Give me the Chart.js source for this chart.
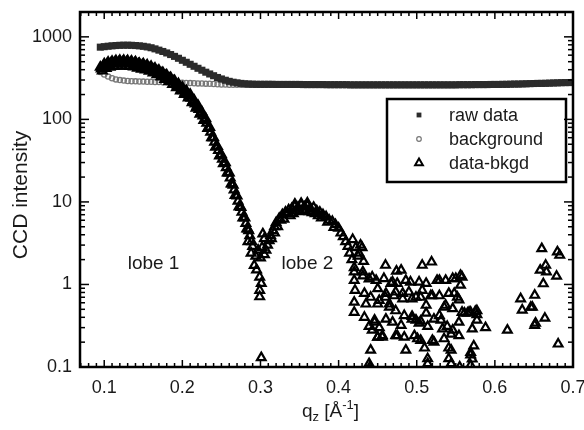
<!DOCTYPE html>
<html>
<head>
<meta charset="utf-8">
<script src="https://cdn.jsdelivr.net/npm/chart.js@4.4.1/dist/chart.umd.min.js"></script>
<style>
  html, body { margin: 0; padding: 0; background: #fff; }
</style>
</head>
<body>
<canvas id="chart" width="584" height="430"></canvas>
<script>
const FONT = '"Liberation Sans", Arial, Helvetica, sans-serif';

// q sampling shared by the raw and background curves
const qGrid = [
  0.095, 0.100, 0.105, 0.110, 0.115, 0.120, 0.125, 0.130, 0.135, 0.140,
  0.145, 0.150, 0.155, 0.160, 0.165, 0.170, 0.175, 0.180, 0.185, 0.190,
  0.195, 0.200, 0.205, 0.210, 0.215, 0.220, 0.225, 0.230, 0.235, 0.240,
  0.245, 0.250, 0.255, 0.260, 0.265, 0.270, 0.275, 0.280, 0.285, 0.290,
  0.295, 0.300, 0.305, 0.310, 0.315, 0.320, 0.325, 0.330, 0.335, 0.340,
  0.345, 0.350, 0.355, 0.360, 0.365, 0.370, 0.375, 0.380, 0.385, 0.390,
  0.395, 0.400, 0.405, 0.410, 0.415, 0.420, 0.425, 0.430, 0.435, 0.440,
  0.445, 0.450, 0.455, 0.460, 0.465, 0.470, 0.475, 0.480, 0.485, 0.490,
  0.495, 0.500, 0.505, 0.510, 0.515, 0.520, 0.525, 0.530, 0.535, 0.540,
  0.545, 0.550, 0.555, 0.560, 0.565, 0.570, 0.575, 0.580, 0.585, 0.590,
  0.595, 0.600, 0.605, 0.610, 0.615, 0.620, 0.625, 0.630, 0.635, 0.640,
  0.645, 0.650, 0.655, 0.660, 0.665, 0.670, 0.675, 0.680, 0.685, 0.690,
  0.695, 0.700
];

const rawData = [
  750, 760, 770, 778, 785, 790, 792, 792, 790, 785,
  778, 768, 755, 738, 715, 690, 665, 638, 610, 580,
  550, 520, 492, 465, 440, 416, 394, 373, 355, 338,
  322, 309, 298, 289, 282, 277, 273, 270, 268, 267,
  266, 266, 266, 266, 266, 265, 265, 265, 265, 265,
  265, 265, 264, 264, 264, 264, 264, 264, 263, 263,
  263, 263, 263, 263, 262, 262, 262, 262, 262, 262,
  262, 262, 262, 262, 262, 262, 262, 262, 262, 262,
  262, 262, 262, 262, 262, 262, 262, 262, 262, 262,
  262, 262, 263, 263, 263, 263, 264, 264, 264, 264,
  265, 265, 265, 266, 266, 267, 268, 268, 269, 270,
  271, 272, 273, 273, 274, 275, 276, 277, 278, 279,
  279, 280
];

const background = [
  376, 350, 330, 315, 305, 299, 295, 292, 290, 289,
  288, 287, 286, 285, 284, 283, 282, 281, 280, 279,
  278, 277, 276, 275, 274, 273, 272, 271, 270, 268,
  266, 265, 264, 263, 263, 262, 262, 262, 262, 262,
  262, 262, 262, 262, 262, 262, 262, 262, 262, 262,
  262, 262, 262, 262, 262, 262, 262, 262, 262, 262,
  262, 262, 262, 262, 261, 261, 261, 261, 261, 261,
  261, 261, 261, 261, 261, 261, 261, 261, 261, 261,
  261, 261, 261, 261, 261, 261, 261, 261, 261, 261,
  261, 261, 262, 262, 262, 262, 263, 263, 263, 263,
  264, 264, 264, 265, 265, 266, 267, 267, 268, 269,
  270, 271, 272, 272, 273, 274, 275, 276, 277, 278,
  278, 279
];

// data-bkgd, first lobe: several passes through the thick band
const lobe1Q = [
  0.095, 0.100, 0.105, 0.110, 0.115, 0.120, 0.125, 0.130, 0.135, 0.140,
  0.145, 0.150, 0.155, 0.160, 0.165, 0.170, 0.175, 0.180, 0.185, 0.190,
  0.195, 0.200, 0.205, 0.210, 0.215, 0.220, 0.225, 0.230, 0.235, 0.240,
  0.245, 0.250, 0.255, 0.260, 0.265, 0.270, 0.275, 0.280, 0.285,
  0.0975, 0.1025, 0.1075, 0.1125, 0.1175, 0.1225, 0.1275, 0.1325, 0.1375, 0.1425,
  0.1475, 0.1525, 0.1575, 0.1625, 0.1675, 0.1725, 0.1775, 0.1825, 0.1875, 0.1925,
  0.1975, 0.2025, 0.2075, 0.2125, 0.2175, 0.2225, 0.2275, 0.2325, 0.2375, 0.2425,
  0.2475, 0.2525, 0.2575, 0.2625, 0.2675, 0.2725, 0.2775, 0.2825,
  0.09625, 0.10125, 0.10625, 0.11125, 0.11625, 0.12125, 0.12625, 0.13125, 0.13625, 0.14125,
  0.14625, 0.15125, 0.15625, 0.16125, 0.16625, 0.17125, 0.17625, 0.18125, 0.18625, 0.19125,
  0.19625, 0.20125, 0.20625, 0.21125, 0.21625, 0.22125, 0.22625, 0.23125, 0.23625, 0.24125,
  0.24625, 0.25125, 0.25625, 0.26125, 0.26625, 0.27125, 0.27625, 0.28125, 0.28625,
  0.09875, 0.10375, 0.10875, 0.11375, 0.11875, 0.12375, 0.12875, 0.13375, 0.13875, 0.14375,
  0.14875, 0.15375, 0.15875, 0.16375, 0.16875, 0.17375, 0.17875, 0.18375, 0.18875,
  0.19375, 0.19875, 0.20375, 0.20875, 0.21375, 0.21875, 0.22375, 0.22875, 0.23375, 0.23875,
  0.24375, 0.24875, 0.25375, 0.25875, 0.26375, 0.26875, 0.27375, 0.27875, 0.28375, 0.28875
];
const lobe1I = [
  430, 470, 492, 505, 514, 518, 518, 514, 507, 498,
  476, 471, 455, 437, 417, 394, 369, 345, 321, 295,
  270, 244, 223, 201, 171, 148, 123, 102, 80, 60,
  47, 37.5, 30, 22.5, 16, 11.8, 8.6, 6.4, 4.5,
  386, 414, 429, 438, 443, 445, 443, 439, 432, 419,
  407, 397, 383, 367, 349, 328, 306, 286, 265, 243,
  221, 201, 182, 160, 137, 116, 97, 78, 60, 46,
  36, 29, 22.5, 16.5, 12, 8.7, 6.4, 4.7,
  410, 445, 463, 474, 481, 484, 483, 479, 472, 462,
  450, 436, 421, 403, 385, 362, 339, 316, 294, 270,
  246, 223, 203, 181, 154, 132, 110, 90, 70, 53,
  42, 33, 26, 19.5, 14, 10.2, 7.5, 5.5, 3.9,
  443, 469, 483, 492, 497, 498, 495, 489, 481, 470,
  456, 442, 424, 406, 384, 362, 338, 314, 290,
  258, 234, 213, 193, 167, 144, 121, 100, 80, 60,
  47, 37, 29.5, 22.5, 16.5, 12, 8.8, 6.5, 4.7, 3.3
];

// data-bkgd, the minimum near 0.3 and the second lobe
const lobe2Q = [
  0.284, 0.288, 0.290, 0.292, 0.294, 0.295, 0.297, 0.299, 0.299, 0.299,
  0.300, 0.301, 0.301, 0.302, 0.303, 0.305, 0.305, 0.307, 0.309, 0.311,
  0.313, 0.316, 0.318, 0.320, 0.324, 0.328, 0.330, 0.332, 0.336, 0.338,
  0.340, 0.342, 0.344, 0.348, 0.350, 0.352, 0.356, 0.358, 0.360, 0.364,
  0.366, 0.368, 0.372, 0.374, 0.376, 0.380, 0.384, 0.388, 0.392, 0.396,
  0.400, 0.403, 0.406, 0.409, 0.412, 0.414, 0.417, 0.418, 0.420, 0.420,
  0.422, 0.425, 0.426, 0.428, 0.430, 0.432,
  0.314, 0.318, 0.322, 0.326, 0.334, 0.344, 0.346, 0.352, 0.354, 0.360,
  0.362, 0.370, 0.378, 0.386, 0.394
];
const lobe2I = [
  3.3, 2.4, 2.9, 1.7, 2.2, 1.5, 2.6, 1.23, 0.85, 0.71,
  2.1, 1.03, 0.13, 2.8, 4.1, 3.6, 2.3, 2.6, 3.0, 3.4,
  3.9, 4.5, 5.0, 5.6, 6.3, 7.0, 6.2, 7.5, 8.0, 6.8,
  8.3, 7.2, 8.8, 8.6, 7.6, 9.2, 8.7, 7.8, 9.0, 8.3,
  7.4, 8.6, 7.8, 6.8, 7.5, 7.0, 6.6, 6.0, 5.8, 5.3,
  4.8, 4.2, 3.8, 3.3, 2.9, 2.4, 2.0, 3.5, 1.6, 1.12,
  2.8, 2.2, 2.4, 3.0, 2.8, 1.9,
  3.6, 4.2, 5.0, 6.0, 7.2, 9.4, 7.8, 9.6, 8.0, 9.7,
  7.6, 7.2, 6.4, 5.7, 4.9
];

// data-bkgd, noisy tail above 0.42
const tailQ = [
  0.421, 0.420, 0.420, 0.431, 0.433, 0.435, 0.433, 0.439, 0.441, 0.439,
  0.443, 0.443, 0.446, 0.450, 0.450, 0.450, 0.456, 0.458, 0.460, 0.4605,
  0.4605, 0.465, 0.467, 0.469, 0.473, 0.474, 0.475, 0.475, 0.480, 0.480,
  0.482, 0.486, 0.490, 0.492, 0.494, 0.494, 0.499, 0.501, 0.503, 0.505,
  0.505, 0.505, 0.507, 0.510, 0.512, 0.514, 0.514, 0.518, 0.519, 0.522,
  0.522, 0.526, 0.529, 0.531, 0.535, 0.537, 0.537, 0.539, 0.541, 0.541,
  0.541, 0.546, 0.550, 0.552, 0.554, 0.554, 0.556, 0.556, 0.558, 0.558,
  0.565, 0.567, 0.569, 0.571, 0.571, 0.573, 0.575, 0.577, 0.577, 0.588,
  0.616, 0.633, 0.635, 0.646, 0.651, 0.651, 0.658, 0.660, 0.662, 0.664,
  0.665, 0.666, 0.679, 0.680, 0.681, 0.683, 0.440, 0.555,
  0.420, 0.431, 0.439, 0.448, 0.469, 0.486, 0.512, 0.529, 0.546,
  0.441, 0.452, 0.460, 0.471, 0.482, 0.499, 0.507, 0.520, 0.548,
  0.446, 0.452, 0.465, 0.473, 0.484, 0.494, 0.503, 0.512, 0.529, 0.535,
  0.546, 0.561, 0.569, 0.577, 0.450, 0.456, 0.473, 0.484, 0.497, 0.520,
  0.533, 0.544, 0.554, 0.544, 0.569, 0.514, 0.544, 0.569, 0.648, 0.652
];
const tailI = [
  0.85, 0.61, 0.46, 1.42, 0.78, 0.58, 0.40, 0.31, 0.16, 0.11,
  1.23, 0.28, 0.37, 0.89, 0.58, 0.23, 0.23, 1.18, 1.71, 0.78,
  0.38, 0.58, 1.03, 0.35, 0.81, 1.45, 1.03, 0.24, 1.49, 0.32,
  0.67, 0.16, 0.81, 1.07, 0.67, 0.41, 0.37, 0.22, 1.07, 0.70,
  0.36, 0.21, 1.71, 0.17, 0.56, 0.31, 0.126, 0.73, 1.87, 0.38,
  0.20, 1.12, 0.73, 0.37, 0.22, 1.12, 0.56, 0.31, 0.78, 0.17,
  0.126, 0.28, 1.18, 0.70, 0.35, 0.65, 1.29, 0.98, 1.23, 0.46,
  0.45, 0.46, 0.14, 0.29, 0.125, 0.18, 0.47, 0.43, 0.37, 0.30,
  0.28, 0.67, 0.49, 0.53, 0.74, 0.32, 1.49, 2.72, 1.02, 0.39,
  1.71, 1.42, 1.26, 2.48, 0.19, 2.26, 0.1, 0.1,
  1.42, 1.27, 1.17, 1.12, 1.07, 1.12, 1.03, 1.12, 1.18,
  0.70, 0.64, 0.70, 0.73, 0.78, 0.70, 0.85, 0.73, 0.78,
  0.35, 0.30, 0.53, 0.48, 0.42, 0.38, 0.34, 0.45, 0.42, 0.53,
  0.51, 0.45, 0.46, 0.48, 0.23, 0.24, 0.24, 0.23, 0.24, 0.21,
  0.29, 0.25, 0.24, 0.16, 0.15, 0.11, 0.11, 0.105, 0.53, 0.34
];

const xTicks = [0.1, 0.2, 0.3, 0.4, 0.5, 0.6, 0.7];
const yTicks = [0.1, 1, 10, 100, 1000];

const pairs = (qs, vs) => qs.map((q, i) => ({x: q, y: vs[i]}));
const diffPoints = [].concat(pairs(lobe1Q, lobe1I), pairs(lobe2Q, lobe2I), pairs(tailQ, tailI));

function line(ctx, x1, y1, x2, y2) {
  ctx.beginPath();
  ctx.moveTo(x1, y1);
  ctx.lineTo(x2, y2);
  ctx.stroke();
}

// box, inward ticks, legend, labels and axis titles
const decorations = {
  id: 'decorations',
  afterDraw(chart) {
    const {ctx, chartArea: a, scales: {x, y}} = chart;
    ctx.save();
    ctx.strokeStyle = '#000';
    ctx.lineWidth = 1.5;

    for (let i = 7; i <= 70; i++) {
      const px = x.getPixelForValue(i / 100);
      const len = i % 10 === 0 ? 7 : 4;
      line(ctx, px, a.bottom, px, a.bottom - len);
      line(ctx, px, a.top, px, a.top + len);
    }
    for (let e = -1; e <= 3; e++) {
      for (let m = 1; m <= 9; m++) {
        const v = m * Math.pow(10, e);
        if (v > y.max) break;
        const py = y.getPixelForValue(v);
        const len = m === 1 ? 9 : 5;
        line(ctx, a.left, py, a.left + len, py);
        line(ctx, a.right, py, a.right - len, py);
      }
    }
    ctx.lineWidth = 2.5;
    ctx.strokeRect(a.left, a.top, a.right - a.left, a.bottom - a.top);

    // legend
    const bx = a.right - 186, by = a.top + 87;
    ctx.strokeRect(bx, by, 179, 83);
    const rows = [
      {text: 'raw data', style: 'rect', r: 3.4, fill: '#2b2b2b', stroke: '#2b2b2b', bw: 0},
      {text: 'background', style: 'circle', r: 2.3, fill: 'rgba(0,0,0,0)', stroke: '#777', bw: 1.2},
      {text: 'data-bkgd', style: 'triangle', r: 4.5, fill: 'rgba(0,0,0,0)', stroke: '#000', bw: 2}
    ];
    ctx.font = '18px ' + FONT;
    ctx.textBaseline = 'middle';
    ctx.textAlign = 'left';
    rows.forEach((row, i) => {
      const ry = by + 16 + i * 24;
      ctx.fillStyle = row.fill;
      ctx.strokeStyle = row.stroke;
      ctx.lineWidth = row.bw;
      Chart.helpers.drawPoint(ctx, {pointStyle: row.style, radius: row.r, rotation: 0, borderWidth: row.bw}, bx + 32, ry);
      ctx.fillStyle = '#1a1a1a';
      ctx.fillText(row.text, bx + 62, ry + 1);
    });

    // lobe labels
    ctx.font = '19px ' + FONT;
    ctx.fillText('lobe 1', x.getPixelForValue(0.130), y.getPixelForValue(1.8));
    ctx.fillText('lobe 2', x.getPixelForValue(0.327), y.getPixelForValue(1.8));

    // y title
    ctx.save();
    ctx.translate(21, 195);
    ctx.rotate(-Math.PI / 2);
    ctx.textAlign = 'center';
    ctx.font = '21px ' + FONT;
    ctx.fillText('CCD intensity', 0, 0);
    ctx.restore();

    // x title with subscript and superscript
    const parts = [
      {t: 'q', size: 19, dy: 0},
      {t: 'z', size: 13, dy: 4},
      {t: ' [Å', size: 19, dy: 0},
      {t: '-1', size: 13, dy: -8},
      {t: ']', size: 19, dy: 0}
    ];
    let total = 0;
    parts.forEach(p => { ctx.font = p.size + 'px ' + FONT; p.w = ctx.measureText(p.t).width; total += p.w; });
    let tx = (a.left + a.right) / 2 + 4 - total / 2;
    ctx.textBaseline = 'alphabetic';
    parts.forEach(p => {
      ctx.font = p.size + 'px ' + FONT;
      ctx.fillText(p.t, tx, 417 + p.dy);
      tx += p.w;
    });
    ctx.restore();
  }
};

const ctx = document.getElementById('chart').getContext('2d');

const chart = new Chart(ctx, {
  type: 'scatter',
  data: {
    datasets: [
      {
        label: 'raw data',
        data: pairs(qGrid, rawData),
        pointStyle: 'rect',
        pointRadius: 5,
        backgroundColor: '#2b2b2b',
        borderColor: '#2b2b2b',
        borderWidth: 0,
        clip: 0,
        order: 1
      },
      {
        label: 'background',
        data: pairs(qGrid, background),
        pointStyle: 'circle',
        pointRadius: 2.6,
        backgroundColor: 'rgba(0,0,0,0)',
        borderColor: '#777',
        borderWidth: 1.3,
        clip: 0,
        order: 2
      },
      {
        label: 'data-bkgd',
        data: diffPoints,
        pointStyle: 'triangle',
        pointRadius: 5,
        backgroundColor: 'rgba(0,0,0,0)',
        borderColor: '#000',
        borderWidth: 2.2,
        clip: 0,
        order: 0
      }
    ]
  },
  options: {
    responsive: false,
    animation: false,
    devicePixelRatio: 1,
    events: [],
    layout: {padding: {left: 0, right: 11, top: 12, bottom: 0}},
    scales: {
      x: {
        type: 'linear',
        min: 0.069,
        max: 0.7,
        grid: {display: false, drawTicks: false},
        border: {display: false},
        afterBuildTicks: (scale) => { scale.ticks = xTicks.map(v => ({value: v})); },
        afterFit: (scale) => { scale.height = 63; scale.paddingLeft = 0; scale.paddingRight = 0; },
        ticks: {
          padding: 10,
          maxRotation: 0,
          color: '#1a1a1a',
          font: {family: FONT, size: 18},
          callback: (v) => v.toFixed(1)
        }
      },
      y: {
        type: 'logarithmic',
        min: 0.1,
        max: 2000,
        grid: {display: false, drawTicks: false},
        border: {display: false},
        afterBuildTicks: (scale) => { scale.ticks = yTicks.map(v => ({value: v})); },
        afterFit: (scale) => { scale.width = 80; scale.paddingTop = 0; scale.paddingBottom = 0; },
        ticks: {
          padding: 8,
          color: '#1a1a1a',
          font: {family: FONT, size: 18},
          callback: (v) => String(v)
        }
      }
    },
    plugins: {
      legend: {display: false},
      tooltip: {enabled: false},
      title: {display: false}
    }
  },
  plugins: [decorations]
});
</script>
</body>
</html>
